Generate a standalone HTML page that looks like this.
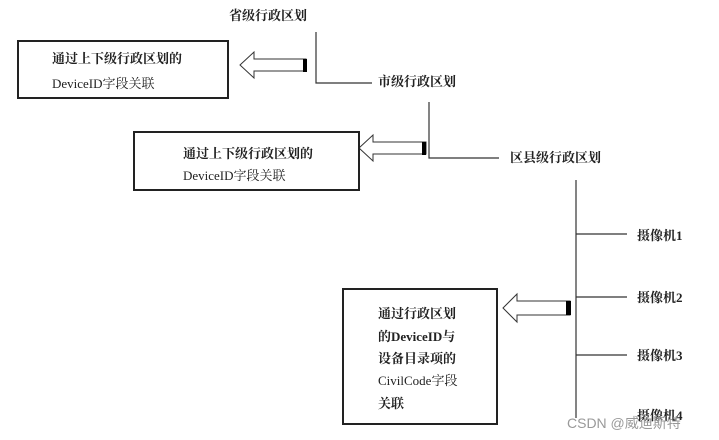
<!DOCTYPE html>
<html><head><meta charset="utf-8"><style>
body{margin:0;background:#fff;width:719px;height:440px;overflow:hidden;position:relative;font-family:"Liberation Serif","Noto Serif CJK SC","Noto Sans CJK SC",serif;color:#222}
.t{position:absolute;font-size:13px;font-weight:bold;white-space:nowrap;line-height:1}
.b{position:absolute;border:2px solid #222;box-sizing:border-box}
</style></head><body>
<svg width="719" height="440" style="position:absolute;left:0;top:0">
<g stroke="#333" stroke-width="1.2" fill="none">
<polyline points="316,32 316,83 372,83"/>
<polyline points="429,102 429,158 499,158"/>
<line x1="576" y1="180" x2="576" y2="418"/>
<line x1="576" y1="234" x2="627" y2="234"/>
<line x1="576" y1="297" x2="627" y2="297"/>
<line x1="576" y1="355" x2="627" y2="355"/>
</g>
<g fill="#fff" stroke="#333" stroke-width="1">
<polygon points="240,65 254,52 254,59 306,59 306,71 254,71 254,78"/>
<polygon points="359,148 373,135 373,142 426,142 426,154 373,154 373,161"/>
<polygon points="503,308 517,294 517,301 570,301 570,315 517,315 517,322"/>
</g>
<rect x="303" y="59" width="4" height="13" fill="#000"/>
<rect x="422" y="142" width="4" height="13" fill="#000"/>
<rect x="566" y="301" width="5" height="14" fill="#000"/>
</svg>
<div class="b" style="left:17px;top:40px;width:212px;height:59px"></div>
<div class="b" style="left:133px;top:131px;width:227px;height:60px"></div>
<div class="b" style="left:342px;top:288px;width:156px;height:137px"></div>
<div class="t" style="left:229px;top:9px">省级行政区划</div>
<div class="t" style="left:52px;top:52px">通过上下级行政区划的</div>
<div class="t" style="left:52px;top:77px;font-weight:normal">DeviceID字段关联</div>
<div class="t" style="left:378px;top:75px">市级行政区划</div>
<div class="t" style="left:183px;top:147px">通过上下级行政区划的</div>
<div class="t" style="left:183px;top:169px;font-weight:normal">DeviceID字段关联</div>
<div class="t" style="left:510px;top:151px">区县级行政区划</div>
<div class="t" style="left:637px;top:229px">摄像机1</div>
<div class="t" style="left:637px;top:291px">摄像机2</div>
<div class="t" style="left:637px;top:349px">摄像机3</div>
<div class="t" style="left:637px;top:409px">摄像机4</div>
<div class="t" style="left:378px;top:307px">通过行政区划</div>
<div class="t" style="left:378px;top:330px">的DeviceID与</div>
<div class="t" style="left:378px;top:352px">设备目录项的</div>
<div class="t" style="left:378px;top:374px;font-weight:normal">CivilCode字段</div>
<div class="t" style="left:378px;top:397px">关联</div>
<div class="t" style="left:567px;top:416px;font-weight:normal;font-size:14px;color:#999;font-family:'Liberation Sans','Noto Sans CJK SC',sans-serif">CSDN @威迪斯特</div>
</body></html>
